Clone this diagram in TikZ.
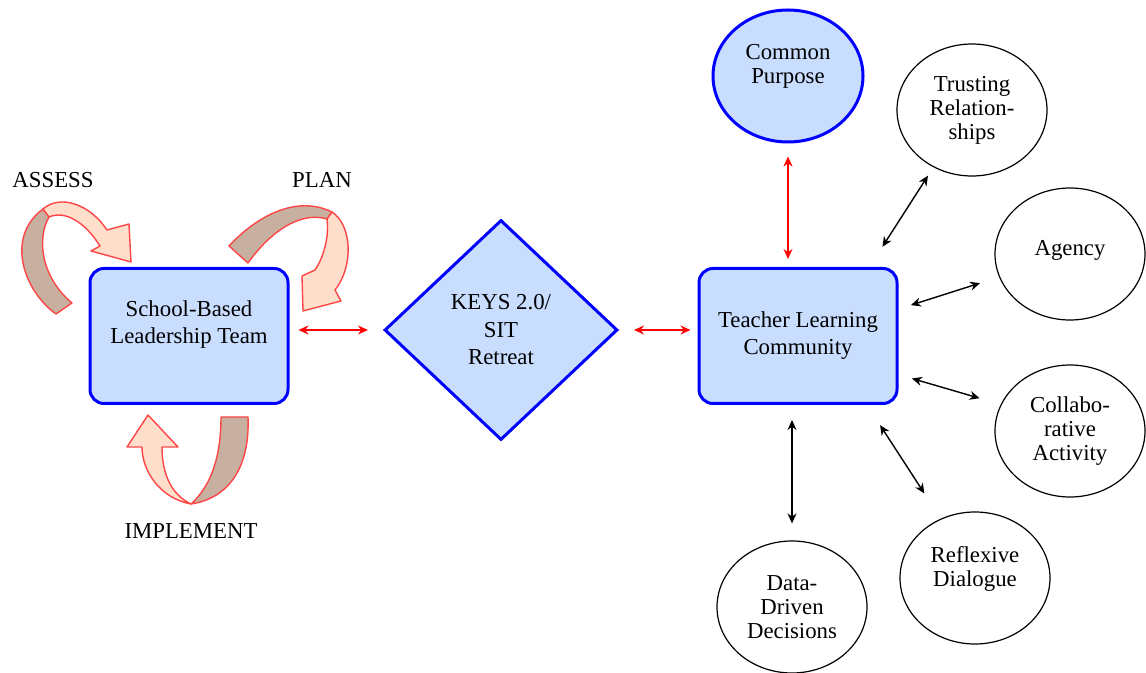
\documentclass[tikz,border=0pt]{standalone}
\usepackage{fontspec}
\setmainfont{Liberation Serif}
\usetikzlibrary{shapes.geometric, arrows.meta}
\definecolor{boxblue}{RGB}{201,221,255}
\definecolor{ribbonred}{RGB}{255,70,70}
\definecolor{ribbonlight}{RGB}{255,222,204}
\definecolor{ribbondark}{RGB}{199,176,160}

\begin{document}
\begin{tikzpicture}[x=0.5pt,y=-0.5pt,
    font=\fontsize{11.4}{13.5}\selectfont,
    bluebox/.style={draw=blue,line width=1.5pt,fill=boxblue,rounded corners=7pt,minimum width=99pt,minimum height=67.5pt,align=center,inner sep=0pt},
    blob/.style={draw,ellipse,line width=0.6pt,minimum width=75pt,minimum height=66pt,inner sep=0pt,align=center,font=\fontsize{11.4}{12}\selectfont},
    redlink/.style={red,line width=0.7pt,<->},
    blacklink/.style={black,line width=0.7pt,<->},
    back/.style={draw=ribbonred,fill=ribbondark,line width=0.7pt,line join=round},
    front/.style={draw=ribbonred,fill=ribbonlight,line width=0.7pt,line join=round},
    >={Stealth[length=5pt,width=4.5pt]}]
    \useasboundingbox (0,0) rectangle (1146,673);

    \node[bluebox] (sblt) at (189,336) {School-Based\\Leadership Team\\\mbox{}};
    \node[diamond,draw=blue,line width=1.5pt,fill=boxblue,minimum width=116.5pt,minimum height=110pt,inner sep=0pt,align=center,font=\fontsize{11.4}{13.75}\selectfont] (keys) at (501,330) {KEYS 2.0/\\SIT\\Retreat};
    \node[bluebox] (tlc) at (798,336) {Teacher Learning\\Community};

    \node[blob,draw=blue,line width=1.5pt,fill=boxblue] (cp) at (788,76) {Common\\Purpose\\\mbox{}};
    \node[blob] (trust) at (972,110) {Trusting\\Relation-\\ships};
    \node[blob,text depth=6pt] (agency) at (1070,254) {Agency};
    \node[blob] (collab) at (1070,431) {Collabo-\\rative\\Activity};
    \node[blob] (reflex) at (975,578) {Reflexive\\Dialogue\\\mbox{}};
    \node[blob] (data) at (792,607) {Data-\\Driven\\Decisions};

    \node (assess) at (53,180) {ASSESS};
    \node (plan) at (322,180) {PLAN};
    \node (implement) at (191,531) {IMPLEMENT};

    \draw[redlink,shorten <=4.5pt,shorten >=7.5pt] (sblt.east |- keys.west) -- (keys.west);
    \draw[redlink,shorten <=7.5pt,shorten >=3.5pt] (keys.east) -- (keys.east -| tlc.west);
    \draw[redlink,shorten <=6.5pt,shorten >=4pt] (cp.south) -- (cp.south |- tlc.north);
    \draw[blacklink,shorten <=7.5pt,shorten >=8.5pt] (data.north |- tlc.south) -- (data.north);
    \draw[blacklink,shorten <=12pt,shorten >=5pt] (tlc.44) -- (trust.236);
    \draw[blacklink,shorten <=6.5pt,shorten >=10pt] (tlc.15) -- (agency.198);
    \draw[blacklink,shorten <=7pt,shorten >=11pt] (tlc.-21) -- (collab.159);
    \draw[blacklink,shorten <=12pt,shorten >=15pt] (tlc.-45) -- (reflex.120);

    \filldraw[back] (56,314) .. controls (25,292) and (4,238) .. (43,209) -- (49,217) .. controls (36,240) and (42,278) .. (72,303) -- cycle;
    \filldraw[front] (43,209) .. controls (60,194) and (90,204) .. (107,230) -- (129,224) -- (131,262) -- (91,251) -- (100,246) .. controls (85,222) and (65,210) .. (49,217) -- cycle;
    \filldraw[back] (229,246) .. controls (255,218) and (295,194) .. (332,212) -- (327,219) .. controls (300,211) and (270,232) .. (248,263) -- cycle;
    \filldraw[front] (332,212) .. controls (352,225) and (354,266) .. (335,290) -- (341,301) -- (303,311) -- (302,276) -- (315,270) .. controls (325,255) and (329,235) .. (327,219) -- cycle;
    \filldraw[back] (221,417) -- (248,417) .. controls (250,466) and (230,498) .. (191,504) .. controls (212,485) and (221,455) .. (221,417) -- cycle;
    \filldraw[front] (191,504) .. controls (159,498) and (142,470) .. (142,447) -- (127,447) -- (148,415) -- (178,447) -- (162,447) .. controls (162,475) and (172,495) .. (191,504) -- cycle;
\end{tikzpicture}
\end{document}
